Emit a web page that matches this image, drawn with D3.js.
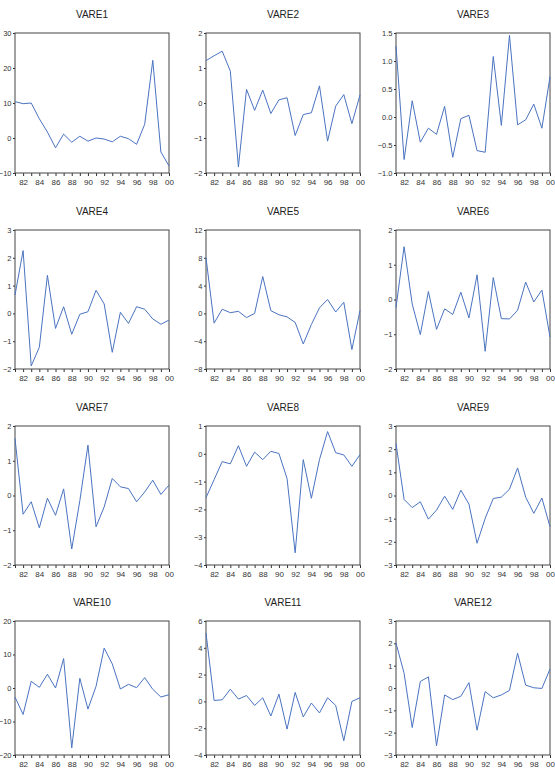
<!DOCTYPE html>
<html>
<head>
<meta charset="utf-8">
<script src="https://cdn.jsdelivr.net/npm/d3@7"></script>
<style>
  body { margin: 0; background: #fff; }
  svg { display: block; font-family: "Liberation Sans", Arial, sans-serif; }
</style>
</head>
<body>
<svg id="chart"></svg>
<script>
// years 1981..2000
var years = d3.range(1981, 2001)
var yearTicks = [1982, 1984, 1986, 1988, 1990, 1992, 1994, 1996, 1998, 2000]

var vare1 = [10.4, 9.8, 10.0, 5.5, 1.7, -2.8, 1.1, -1.2, 0.5, -0.9, 0.0, -0.3, -1.1, 0.5, -0.2, -1.8, 3.9, 22.2, -4.0, -8.0]
var vare2 = [1.21, 1.35, 1.48, 0.91, -1.83, 0.39, -0.21, 0.37, -0.30, 0.09, 0.15, -0.93, -0.33, -0.28, 0.49, -1.09, -0.09, 0.24, -0.59, 0.23]
var vare3 = [1.27, -0.76, 0.29, -0.45, -0.20, -0.31, 0.19, -0.72, -0.03, 0.03, -0.60, -0.63, 1.08, -0.15, 1.46, -0.14, -0.05, 0.23, -0.20, 0.72]
var vare4 = [0.66, 2.26, -1.89, -1.22, 1.37, -0.54, 0.24, -0.75, -0.03, 0.06, 0.83, 0.34, -1.40, 0.04, -0.36, 0.24, 0.15, -0.20, -0.39, -0.24]
var vare5 = [8.0, -1.4, 0.6, 0.1, 0.3, -0.6, 0.0, 5.3, 0.4, -0.2, -0.5, -1.3, -4.4, -1.6, 0.8, 2.0, 0.2, 1.6, -5.2, 0.4]
var vare6 = [-0.23, 1.52, -0.13, -1.01, 0.23, -0.86, -0.27, -0.43, 0.21, -0.53, 0.71, -1.49, 0.63, -0.55, -0.56, -0.31, 0.50, -0.07, 0.27, -1.08]
var vare7 = [1.64, -0.54, -0.18, -0.93, -0.08, -0.57, 0.19, -1.54, -0.15, 1.45, -0.90, -0.33, 0.49, 0.25, 0.20, -0.18, 0.10, 0.44, 0.03, 0.30]
var vare8 = [-1.58, -0.93, -0.28, -0.36, 0.29, -0.45, 0.06, -0.21, 0.09, 0.01, -0.89, -3.56, -0.21, -1.60, -0.21, 0.80, 0.04, -0.04, -0.45, -0.03]
var vare9 = [2.24, -0.17, -0.52, -0.27, -1.02, -0.63, -0.03, -0.60, 0.23, -0.37, -2.06, -0.99, -0.13, -0.07, 0.27, 1.19, -0.07, -0.77, -0.11, -1.35]
var vare10 = [-2.7, -7.9, 2.0, 0.2, 4.1, 0.0, 8.8, -17.9, 2.9, -6.3, 0.5, 11.9, 7.2, -0.3, 1.1, 0.1, 3.1, -0.4, -2.7, -2.0]
var vare11 = [5.1, 0.07, 0.12, 0.91, 0.17, 0.44, -0.30, 0.27, -1.09, 0.54, -2.07, 0.67, -1.16, -0.12, -0.86, 0.27, -0.30, -2.94, 0.00, 0.27]
var vare12 = [2.01, 0.66, -1.77, 0.29, 0.50, -2.59, -0.31, -0.52, -0.37, 0.24, -1.89, -0.16, -0.44, -0.31, -0.11, 1.56, 0.13, 0.01, -0.02, 0.85]

var names = ["VARE1", "VARE2", "VARE3", "VARE4", "VARE5", "VARE6", "VARE7", "VARE8", "VARE9", "VARE10", "VARE11", "VARE12"]
var series = [vare1, vare2, vare3, vare4, vare5, vare6, vare7, vare8, vare9, vare10, vare11, vare12]
var yDomains = [[-10, 30], [-2, 2], [-1, 1.5], [-2, 3], [-8, 12], [-2, 2], [-2, 2], [-4, 1], [-3, 3], [-20, 20], [-4, 6], [-3, 3]]
var yTicks = [
    [-10, 0, 10, 20, 30], [-2, -1, 0, 1, 2], [-1, -0.5, 0, 0.5, 1, 1.5],
    [-2, -1, 0, 1, 2, 3], [-8, -4, 0, 4, 8, 12], [-2, -1, 0, 1, 2],
    [-2, -1, 0, 1, 2], [-4, -3, -2, -1, 0, 1], [-3, -2, -1, 0, 1, 2, 3],
    [-20, -10, 0, 10, 20], [-4, -2, 0, 2, 4, 6], [-3, -2, -1, 0, 1, 2, 3]
]
var yFormats = ["d", "d", ".1f", "d", "d", "d", "d", "d", "d", "d", "d", "d"]

var W = 555, H = 776
var colLeft = [15, 206, 396], plotW = 154
var rowTop = [33, 230, 426, 621], rowH = [140, 139, 139, 134]
var lineColor = "#4a73c0"

var svg = d3.select("#chart").attr("width", W).attr("height", H)

series.forEach(function (vals, i) {
    var c = i % 3, r = Math.floor(i / 3)
    var g = svg.append("g").attr("transform", "translate(" + colLeft[c] + "," + rowTop[r] + ")")
    var h = rowH[r]

    var x = d3.scaleLinear().domain([1981, 2000]).range([0, plotW])
    var y = d3.scaleLinear().domain(yDomains[i]).range([h, 0])

    g.append("text")
        .attr("x", plotW / 2).attr("y", -15)
        .attr("text-anchor", "middle")
        .style("font-size", "10px").style("fill", "#222")
        .text(names[i])

    // x axis: yearly ticks, labels on even years
    var xa = g.append("g").attr("transform", "translate(0," + h + ")")
        .call(d3.axisBottom(x).tickValues(years).tickSize(3).tickSizeOuter(0).tickFormat(""))
    xa.select(".domain").remove()
    xa.selectAll("line").attr("stroke", "#333")
    g.append("g").attr("transform", "translate(0," + h + ")")
        .call(d3.axisBottom(x).tickValues(yearTicks).tickSize(0).tickPadding(6)
            .tickFormat(function (d) { return d3.format("02d")(d % 100) }))
        .call(function (a) {
            a.select(".domain").remove()
            a.selectAll("text").style("font-size", "8px").style("fill", "#333").style("font-family", "inherit")
        })

    var ya = g.append("g")
        .call(d3.axisLeft(y).tickValues(yTicks[i]).tickSize(2).tickPadding(1.5).tickFormat(d3.format(yFormats[i])))
    ya.select(".domain").remove()
    ya.selectAll("line").attr("stroke", "#333")
    ya.selectAll("text").style("font-size", "7.5px").style("fill", "#333").style("font-family", "inherit")

    g.append("rect")
        .attr("x", 0).attr("y", 0).attr("width", plotW).attr("height", h)
        .attr("fill", "none").attr("stroke", "#444").attr("stroke-width", 1)

    var line = d3.line()
        .x(function (d, k) { return x(years[k]) })
        .y(function (d) { return y(d) })

    g.append("path").datum(vals)
        .attr("d", line)
        .attr("fill", "none")
        .attr("stroke", lineColor)
        .attr("stroke-width", 1)
})
</script>
</body>
</html>
